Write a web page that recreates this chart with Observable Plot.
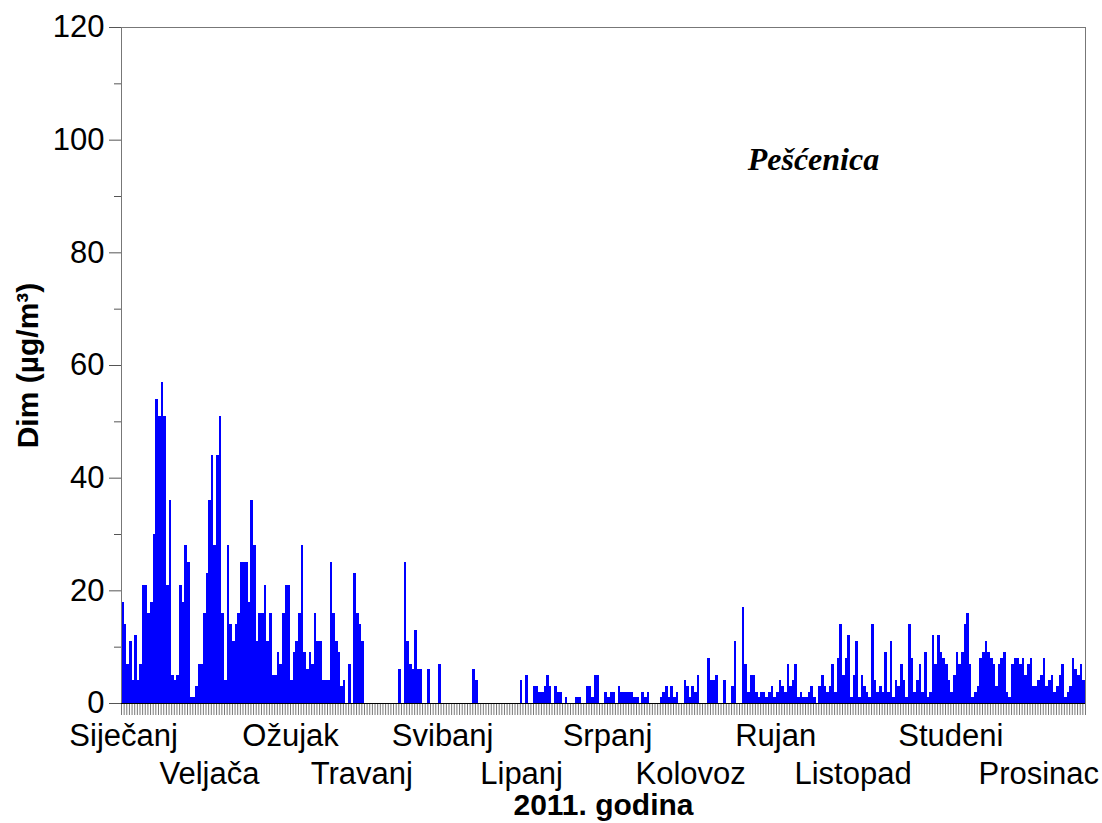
<!DOCTYPE html>
<html>
<head>
<meta charset="utf-8">
<script src="https://cdn.jsdelivr.net/npm/d3@7"></script>
<script src="https://cdn.jsdelivr.net/npm/@observablehq/plot@0.6"></script>
<style>
  html, body { margin: 0; padding: 0; background: #fff; }
</style>
</head>
<body>
<div id="chart"></div>
<script>
// Daily smoke (Dim) concentrations, µg/m³, Pešćenica 2011 — one array per month
const jan = [18,14,7,11,4,12,4,7,21,21,16,18,30,54,51,57,51,21,36,5,4,5,21,18,28,25,1,1,3,7,7];
const feb = [16,23,36,44,28,44,51,16,4,28,14,11,14,16,25,25,25,18,36,28,11,16,16,21,11,16,5,5];
const mar = [9,7,16,21,21,4,9,11,16,28,9,6,9,7,16,11,11,4,4,4,25,16,11,9,3,4,0,7,0,23,16];
const apr = [14,11,0,0,0,0,0,0,0,0,0,0,0,0,0,6,0,25,11,7,6,13,6,6,0,0,6,0,0,0];
const may = [7,0,0,0,0,0,0,0,0,0,0,0,0,6,4,0,0,0,0,0,0,0,0,0,0,0,0,0,0,0,0];
const jun = [4,0,5,0,0,3,3,2,2,3,5,3,0,3,2,2,0,1,0,0,0,1,1,0,0,3,3,1,5,5];
const jul = [0,0,2,1,2,2,0,3,2,2,2,2,2,1,1,0,2,1,2,0,0,0,0,1,2,3,1,3,1,2,0];
const aug = [0,4,3,1,3,2,5,0,0,0,8,4,4,5,0,0,4,0,0,3,11,0,0,17,7,2,5,5,2,1,2];
const sep = [2,1,2,3,1,2,4,3,2,7,3,4,7,1,2,1,1,2,3,1,0,3,5,3,2,3,7,2,8,14];
const oct = [5,8,12,1,5,11,1,5,3,2,1,14,4,2,3,2,9,2,11,1,4,3,7,4,1,14,8,2,4,7,2];
const nov = [9,1,2,12,7,12,9,8,7,4,2,5,9,7,9,14,16,7,1,2,3,8,9,11,9,8,7,3,7,8];
const dec = [9,2,1,7,8,8,7,8,5,7,8,3,3,4,5,8,3,4,5,2,3,5,7,1,2,3,8,6,5,7,4];

const months = ["Siječanj","Veljača","Ožujak","Travanj","Svibanj","Lipanj","Srpanj","Kolovoz","Rujan","Listopad","Studeni","Prosinac"];
const monthLabelDay = [0.8,33.3,64,91,121.6,151.5,184,215.5,247.7,277,314,347.3];
const yMajorTicks = [0,20,40,60,80,100,120];
const yMinorTicks = [10,30,50,70,90,110];
const yLabel = "Dim (µg/m³)";
const xLabel = "2011. godina";
const stationName = "Pešćenica";
const stationPos = {day: 262, value: 96.5};

const values = [...jan,...feb,...mar,...apr,...may,...jun,...jul,...aug,...sep,...oct,...nov,...dec];
const data = values.map((v, i) => ({day: i, next: i + 1, value: v})).filter(d => d.value > 0);
const nDays = values.length;
const monthData = months.map((m, i) => ({name: m, day: monthLabelDay[i], row: i % 2}));

const chart = Plot.plot({
  width: 1102,
  height: 823,
  marginLeft: 121,
  marginRight: 17,
  marginTop: 27,
  marginBottom: 120,
  style: {fontFamily: "'Liberation Sans', Arial, sans-serif", fontSize: "31px", background: "#fff", color: "#000"},
  x: {domain: [0, nDays], axis: null},
  y: {domain: [0, 120], axis: null},
  marks: [
    Plot.rectY(data, {x1: "day", x2: "next", y: "value", fill: "#0000ff", shapeRendering: "crispEdges"}),
    Plot.axisX(d3.range(0, nDays + 1), {tickSize: 12, tickFormat: () => "", label: null, stroke: "#555", strokeWidth: 0.8}),
    Plot.axisY(yMajorTicks, {tickSize: 12, tickPadding: 5, fontSize: 31, label: null, stroke: "#555"}),
    Plot.axisY(yMinorTicks, {tickSize: 7, tickFormat: () => "", label: null, stroke: "#555"}),
    Plot.frame({stroke: "#777"}),
    Plot.ruleY([0], {stroke: "#000"}),
    Plot.text(monthData, {x: "day", y: 0, text: "name", fontSize: 31, lineAnchor: "middle",
      filter: d => d.row === 0, dy: 33}),
    Plot.text(monthData, {x: "day", y: 0, text: "name", fontSize: 31, lineAnchor: "middle",
      filter: d => d.row === 1, dy: 71}),
    Plot.text([xLabel], {frameAnchor: "bottom", dy: 102, fontSize: 30, fontWeight: "bold", lineAnchor: "middle"}),
    Plot.text([yLabel], {frameAnchor: "left", dx: -93, rotate: -90, textAnchor: "middle", fontSize: 30, fontWeight: "bold", lineAnchor: "middle"}),
    Plot.text([stationPos], {x: "day", y: "value", text: () => stationName, fontFamily: "'Liberation Serif', 'Times New Roman', serif",
      fontStyle: "italic", fontWeight: "bold", fontSize: 32, lineAnchor: "middle"})
  ]
});
document.getElementById("chart").appendChild(chart);
</script>
</body>
</html>
